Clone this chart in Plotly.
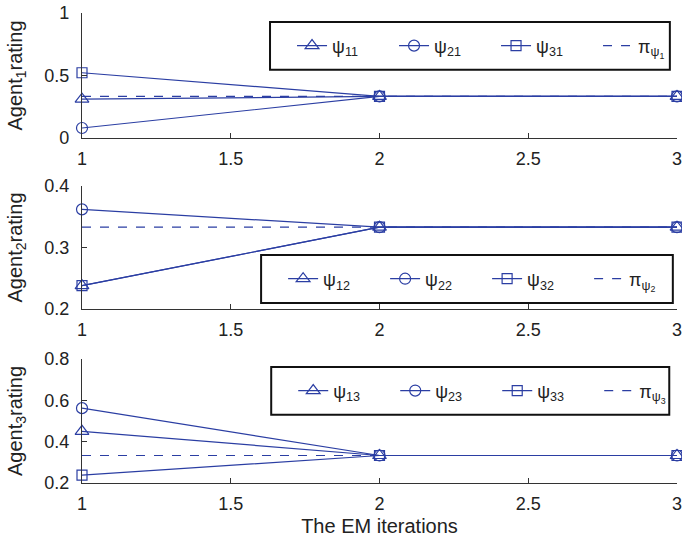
import plotly.graph_objects as go

# EM iteration index
iterations = [1, 2, 3]

# Agent 1 ratings per iteration
psi11 = [0.311, 0.333, 0.333]
psi21 = [0.080, 0.333, 0.333]
psi31 = [0.522, 0.333, 0.333]
pi_psi1 = [0.333, 0.333, 0.333]

# Agent 2 ratings per iteration
psi12 = [0.238, 0.333, 0.333]
psi22 = [0.362, 0.333, 0.333]
psi32 = [0.238, 0.333, 0.333]
pi_psi2 = [0.333, 0.333, 0.333]

# Agent 3 ratings per iteration
psi13 = [0.450, 0.333, 0.333]
psi23 = [0.562, 0.333, 0.333]
psi33 = [0.238, 0.333, 0.333]
pi_psi3 = [0.333, 0.333, 0.333]

x_ticks = [1, 1.5, 2, 2.5, 3]
x_tick_text = ["1", "1.5", "2", "2.5", "3"]

panels = [
    dict(series=[psi11, psi21, psi31], pi=pi_psi1, idx=1,
         yrange=[0, 1], yticks=[0, 0.5, 1], yticktext=["0", "0.5", "1"]),
    dict(series=[psi12, psi22, psi32], pi=pi_psi2, idx=2,
         yrange=[0.2, 0.4], yticks=[0.2, 0.3, 0.4], yticktext=["0.2", "0.3", "0.4"]),
    dict(series=[psi13, psi23, psi33], pi=pi_psi3, idx=3,
         yrange=[0.2, 0.8], yticks=[0.2, 0.4, 0.6, 0.8],
         yticktext=["0.2", "0.4", "0.6", "0.8"]),
]

BLUE = "#2b3ea3"
AXIS = "#333333"
FONT = "Liberation Sans, Arial, sans-serif"
symbols = ["triangle-up-open", "circle-open", "square-open"]
sizes = [12, 11, 10]

fig = go.Figure()

for p in panels:
    k = p["idx"]
    suffix = "" if k == 1 else str(k)
    legend_name = "legend" if k == 1 else "legend%d" % k
    for i, ys in enumerate(p["series"]):
        fig.add_trace(go.Scatter(
            x=iterations, y=ys, mode="lines+markers",
            name="ψ<sub>%d%d</sub>" % (i + 1, k),
            line=dict(color=BLUE, width=1.2),
            marker=dict(symbol=symbols[i], size=sizes[i], color=BLUE,
                        line=dict(width=1.2, color=BLUE)),
            xaxis="x" + suffix, yaxis="y" + suffix,
            legend=legend_name, cliponaxis=False,
        ))
    fig.add_trace(go.Scatter(
        x=iterations, y=p["pi"], mode="lines",
        name="π<sub>ψ<sub>%d</sub></sub>" % k,
        line=dict(color=BLUE, width=1.2, dash="dash"),
        xaxis="x" + suffix, yaxis="y" + suffix,
        legend=legend_name,
    ))

# plot area: l=82, r=5, t=13, b=60 -> 470 px tall
domains = [[0.734, 1.0], [0.370, 0.632], [0.0, 0.264]]

axis_common = dict(
    showline=True, linecolor=AXIS, linewidth=1.2,
    ticks="inside", ticklen=5, tickcolor=AXIS, tickwidth=1.2,
    showgrid=False, zeroline=False,
    tickfont=dict(family=FONT, size=18, color="#222222"),
    mirror=False, ticklabeloverflow="allow", automargin=False,
)

layout = dict(
    width=682, height=543,
    margin=dict(l=82, r=5, t=13, b=60, autoexpand=False),
    paper_bgcolor="white", plot_bgcolor="white",
    font=dict(family=FONT, size=18, color="#222222"),
)

# legend frames (paper coords): x0, x1, y0, y1
legend_boxes = [
    (0.316, 0.988, 0.879, 0.981),
    (0.301, 0.993, 0.383, 0.485),
    (0.318, 0.987, 0.145, 0.247),
]
legend_x = [0.353, 0.338, 0.355]

shapes = []
for p, dom, box, lx in zip(panels, domains, legend_boxes, legend_x):
    k = p["idx"]
    suffix = "" if k == 1 else str(k)
    xa = dict(axis_common, domain=[0, 1], range=[1, 3],
              tickvals=x_ticks, ticktext=x_tick_text,
              anchor="y" + suffix, ticklabelstandoff=4)
    if k == 3:
        xa["title"] = dict(text="The EM iterations",
                           font=dict(family=FONT, size=20, color="#222222"),
                           standoff=6)
    ya = dict(axis_common, domain=dom, range=p["yrange"],
              tickvals=p["yticks"], ticktext=p["yticktext"],
              anchor="x" + suffix, ticklabelstandoff=8,
              title=dict(text="Agent<sub>%d</sub>rating" % k,
                         font=dict(family=FONT, size=20, color="#222222"),
                         standoff=16))
    layout["xaxis" + suffix] = xa
    layout["yaxis" + suffix] = ya
    legend_name = "legend" if k == 1 else "legend%d" % k
    layout[legend_name] = dict(
        orientation="h", x=lx, y=(box[2] + box[3]) / 2,
        xanchor="left", yanchor="middle",
        bgcolor="rgba(0,0,0,0)", borderwidth=0,
        font=dict(family=FONT, size=18, color="#222222"),
        itemwidth=30, tracegroupgap=0,
        entrywidth=57, entrywidthmode="pixels",
    )
    shapes.append(dict(
        type="rect", xref="paper", yref="paper",
        x0=box[0], x1=box[1], y0=box[2], y1=box[3],
        line=dict(color="#111111", width=2), fillcolor="white",
        layer="above",
    ))

layout["shapes"] = shapes
fig.update_layout(**layout)
fig.write_html("out.html")
